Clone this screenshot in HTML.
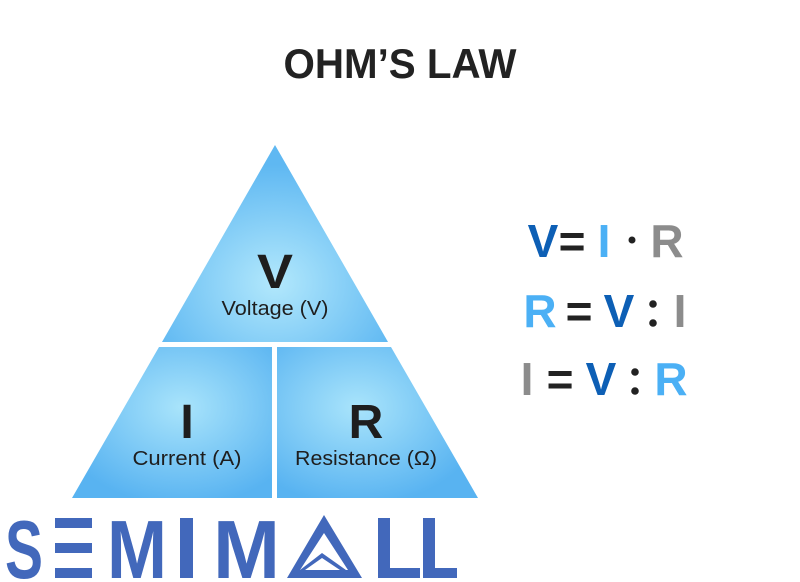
<!DOCTYPE html>
<html><head><style>html,body{margin:0;padding:0;background:#fff;width:800px;height:582px;overflow:hidden}</style></head>
<body>
<svg width="800" height="582" viewBox="0 0 800 582" xmlns="http://www.w3.org/2000/svg" font-family="Liberation Sans, sans-serif">
<defs>
<radialGradient id="g1" cx="0.5" cy="0.7" r="0.6"><stop offset="0" stop-color="#b2e8fc"/><stop offset="1" stop-color="#5fb8f2"/></radialGradient>
<radialGradient id="g2" cx="0.55" cy="0.4" r="0.65"><stop offset="0" stop-color="#a9e4fb"/><stop offset="1" stop-color="#58b3f1"/></radialGradient>
<radialGradient id="g3" cx="0.4" cy="0.4" r="0.65"><stop offset="0" stop-color="#a9e4fb"/><stop offset="1" stop-color="#58b3f1"/></radialGradient>
</defs>
<text x="400" y="78" text-anchor="middle" font-size="42" font-weight="bold" fill="#222" textLength="233" lengthAdjust="spacingAndGlyphs">OHM’S LAW</text>
<polygon points="275,145 388,342 162,342" fill="url(#g1)"/>
<polygon points="159,347 272,347 272,498 72,498" fill="url(#g2)"/>
<polygon points="277,347 391,347 478,498 277,498" fill="url(#g3)"/>
<g fill="#1e1e1e" text-anchor="middle">
<text x="275" y="288" font-size="48" font-weight="bold" textLength="36" lengthAdjust="spacingAndGlyphs">V</text>
<text x="275" y="315" font-size="20" textLength="107" lengthAdjust="spacingAndGlyphs">Voltage (V)</text>
<text x="187" y="438" font-size="48" font-weight="bold">I</text>
<text x="187" y="465" font-size="20" textLength="109" lengthAdjust="spacingAndGlyphs">Current (A)</text>
<text x="366" y="438" font-size="48" font-weight="bold">R</text>
<text x="366" y="465" font-size="20" textLength="142" lengthAdjust="spacingAndGlyphs">Resistance (Ω)</text>
</g>
<g font-size="46" font-weight="bold" text-anchor="middle">
<text x="543" y="257" fill="#0d5fb5">V</text>
<text x="572" y="257" fill="#222">=</text>
<text x="604" y="257" fill="#4bb0f5">I</text>
<circle cx="632" cy="240" r="3.5" fill="#222"/>
<text x="667" y="257" fill="#8c8c8c">R</text>

<text x="540" y="327" fill="#4bb0f5">R</text>
<text x="579" y="327" fill="#222">=</text>
<text x="619" y="327" fill="#0d5fb5">V</text>
<circle cx="653" cy="304" r="3.8" fill="#222"/><circle cx="653" cy="323" r="3.8" fill="#222"/>
<text x="680" y="327" fill="#8c8c8c">I</text>

<text x="527" y="395" fill="#8c8c8c">I</text>
<text x="560" y="395" fill="#222">=</text>
<text x="601" y="395" fill="#0d5fb5">V</text>
<circle cx="635" cy="372" r="3.8" fill="#222"/><circle cx="635" cy="391" r="3.8" fill="#222"/>
<text x="671" y="395" fill="#4bb0f5">R</text>
</g>
<g fill="#4268bb">
<text x="5" y="578" font-size="83" font-weight="bold" textLength="38" lengthAdjust="spacingAndGlyphs">S</text>
<rect x="55" y="518" width="37" height="10"/><rect x="55" y="543" width="37" height="10"/><rect x="55" y="568" width="37" height="10"/>
<text x="107" y="578" font-size="83" font-weight="bold" textLength="60" lengthAdjust="spacingAndGlyphs">M</text>
<rect x="180" y="518" width="13" height="60"/>
<text x="213" y="578" font-size="83" font-weight="bold" textLength="67" lengthAdjust="spacingAndGlyphs">M</text>
<path d="M324,515 L362,578 L287,578 Z M324,533 L300,570 L348,570 Z" fill-rule="evenodd"/>
<path d="M322,553 L300,570 L305,570 L322,558 L340,570 L346,570 Z"/>
<rect x="378" y="518" width="12" height="60"/><rect x="378" y="568" width="42" height="10"/>
<rect x="423" y="518" width="12" height="60"/><rect x="423" y="568" width="34" height="10"/>
</g>
</svg>
</body></html>
